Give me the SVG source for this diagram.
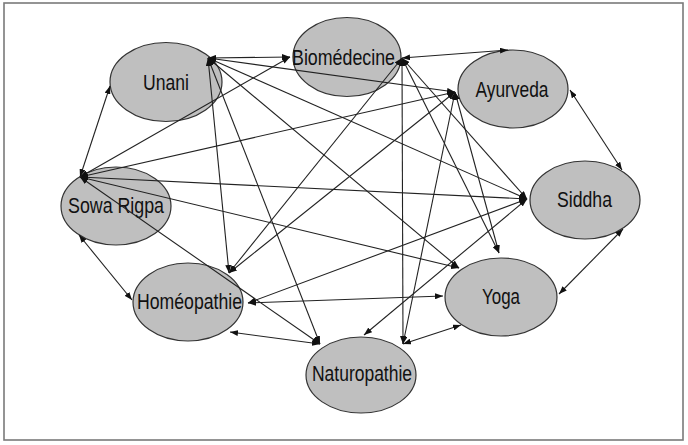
<svg xmlns="http://www.w3.org/2000/svg" width="688" height="445" viewBox="0 0 688 445">
<style>
.node ellipse{fill:#bfbfbf;stroke:#333;stroke-width:1.2}
.node text{font-family:"Liberation Sans",Arial,sans-serif;font-size:17px;fill:#111;text-anchor:middle}
#edges line{stroke:#222;stroke-width:1.1;marker-start:url(#ah);marker-end:url(#ah)}
</style>
<defs>
<marker id="ah" markerUnits="userSpaceOnUse" markerWidth="8" markerHeight="6" refX="8" refY="3" orient="auto-start-reverse">
<path d="M0,0 L8,3 L0,6 z" fill="#111"/>
</marker>
</defs>
<rect x="0" y="0" width="688" height="445" fill="#fff"/>
<rect x="4" y="3" width="679" height="437" fill="none" stroke="#7a7a7a" stroke-width="1.6"/>
<g id="unani" class="node"><ellipse cx="166" cy="82" rx="56" ry="39.5"/><text transform="translate(166,82.5) scale(1,1.25)" y="6" textLength="46" lengthAdjust="spacingAndGlyphs">Unani</text></g>
<g id="biomedecine" class="node"><ellipse cx="347" cy="57" rx="54" ry="39.5"/><text transform="translate(343.5,57.5) scale(1,1.25)" y="6" textLength="103" lengthAdjust="spacingAndGlyphs">Biomédecine</text></g>
<g id="ayurveda" class="node"><ellipse cx="513" cy="89" rx="55" ry="39"/><text transform="translate(512,89.5) scale(1,1.25)" y="6" textLength="73" lengthAdjust="spacingAndGlyphs">Ayurveda</text></g>
<g id="siddha" class="node"><ellipse cx="585" cy="200" rx="55" ry="39"/><text transform="translate(584.5,199) scale(1,1.25)" y="6" textLength="55" lengthAdjust="spacingAndGlyphs">Siddha</text></g>
<g id="yoga" class="node"><ellipse cx="501" cy="297" rx="56" ry="39"/><text transform="translate(501,296.5) scale(1,1.25)" y="6" textLength="38" lengthAdjust="spacingAndGlyphs">Yoga</text></g>
<g id="naturopathie" class="node"><ellipse cx="361" cy="375" rx="55" ry="38"/><text transform="translate(362,373.5) scale(1,1.25)" y="6" textLength="100" lengthAdjust="spacingAndGlyphs">Naturopathie</text></g>
<g id="homeopathie" class="node"><ellipse cx="188" cy="302" rx="55" ry="39"/><text transform="translate(189.5,301) scale(1,1.25)" y="6" textLength="105" lengthAdjust="spacingAndGlyphs">Homéopathie</text></g>
<g id="sowarigpa" class="node"><ellipse cx="116" cy="206" rx="55" ry="39"/><text transform="translate(116,205.5) scale(1,1.25)" y="6" textLength="96" lengthAdjust="spacingAndGlyphs">Sowa Rigpa</text></g>
<g id="edges">
<line x1="208" y1="58" x2="290" y2="57"/>
<line x1="208" y1="58" x2="455" y2="92"/>
<line x1="208" y1="58" x2="527" y2="199"/>
<line x1="208" y1="58" x2="459" y2="268"/>
<line x1="208" y1="58" x2="320" y2="344"/>
<line x1="208" y1="58" x2="229" y2="273"/>
<line x1="80" y1="177" x2="110" y2="86"/>
<line x1="402" y1="58" x2="508" y2="50"/>
<line x1="402" y1="58" x2="527" y2="199"/>
<line x1="402" y1="58" x2="499" y2="253"/>
<line x1="402" y1="58" x2="403" y2="344"/>
<line x1="402" y1="58" x2="229" y2="273"/>
<line x1="80" y1="177" x2="290" y2="57"/>
<line x1="570" y1="90" x2="622" y2="170"/>
<line x1="455" y1="92" x2="499" y2="253"/>
<line x1="455" y1="92" x2="403" y2="344"/>
<line x1="455" y1="92" x2="229" y2="273"/>
<line x1="80" y1="177" x2="455" y2="92"/>
<line x1="623" y1="229" x2="559" y2="294"/>
<line x1="527" y1="199" x2="364" y2="335"/>
<line x1="527" y1="199" x2="248" y2="303"/>
<line x1="80" y1="177" x2="527" y2="199"/>
<line x1="403" y1="344" x2="461" y2="325"/>
<line x1="248" y1="303" x2="443" y2="296"/>
<line x1="80" y1="177" x2="459" y2="268"/>
<line x1="320" y1="344" x2="230" y2="332"/>
<line x1="80" y1="177" x2="320" y2="344"/>
<line x1="79" y1="235" x2="132" y2="300"/>
</g>
</svg>
